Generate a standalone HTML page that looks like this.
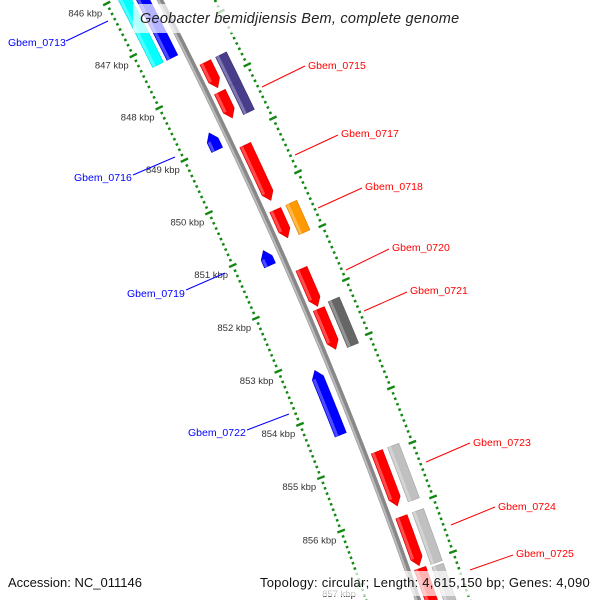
<!DOCTYPE html>
<html><head><meta charset="utf-8"><style>
html,body{margin:0;padding:0;background:#fff;overflow:hidden;width:600px;height:600px;}
svg{display:block;font-family:"Liberation Sans","DejaVu Sans",sans-serif;overflow:hidden;}
</style></head><body>
<svg id="map" width="600" height="600" viewBox="0 0 600 600">
<g id="ticks"></g>
<g id="backbone"></g>
<g id="genes"></g>
<g id="labels" font-size="10.5">
 <g fill="#0000ff" stroke="#0000ff">
  <line x1="66" y1="41" x2="108" y2="21"/>
  <text x="8" y="46" stroke="none">Gbem_0713</text>
  <line x1="133" y1="175" x2="175" y2="157"/>
  <text x="74" y="181" stroke="none">Gbem_0716</text>
  <line x1="186" y1="290" x2="225" y2="273"/>
  <text x="127" y="297" stroke="none">Gbem_0719</text>
  <line x1="247" y1="430" x2="289" y2="414"/>
  <text x="188" y="436" stroke="none">Gbem_0722</text>
 </g>
 <g fill="#ff0000" stroke="#ff0000">
  <line x1="262" y1="87" x2="305" y2="66"/>
  <text x="308" y="69" stroke="none">Gbem_0715</text>
  <line x1="295" y1="155" x2="338" y2="135"/>
  <text x="341" y="137" stroke="none">Gbem_0717</text>
  <line x1="318" y1="208" x2="362" y2="188"/>
  <text x="365" y="190" stroke="none">Gbem_0718</text>
  <line x1="346" y1="270" x2="389" y2="249"/>
  <text x="392" y="251" stroke="none">Gbem_0720</text>
  <line x1="364" y1="311" x2="407" y2="292"/>
  <text x="410" y="294" stroke="none">Gbem_0721</text>
  <line x1="426" y1="462" x2="470" y2="443"/>
  <text x="473" y="446" stroke="none">Gbem_0723</text>
  <line x1="451" y1="525" x2="495" y2="507"/>
  <text x="498" y="510" stroke="none">Gbem_0724</text>
  <line x1="470" y1="570" x2="513" y2="555"/>
  <text x="516" y="557" stroke="none">Gbem_0725</text>
 </g>
</g>
<rect x="133" y="4" width="338" height="29" fill="#fff" fill-opacity="0.7"/>
<text x="140" y="23" font-size="14.5" font-style="italic" fill="#222" letter-spacing="0.25">Geobacter bemidjiensis Bem, complete genome</text>
<text x="8" y="587" font-size="13" fill="#111">Accession: NC_011146</text>
<rect x="255" y="571" width="340" height="25" fill="#fff" fill-opacity="0.7"/>
<text x="590" y="587" font-size="13" fill="#111" text-anchor="end" letter-spacing="0.25">Topology: circular; Length: 4,615,150 bp; Genes: 4,090</text>
</svg>
<script>
// ---- data ----
const geneStarts  = [845.5, 845.5, 847.65, 848.21, 847.65, 848.19, 848.76, 849.21, 850.43, 850.43, 850.98, 851.53, 852.28, 852.23, 853.23, 854.93, 854.93, 856.13, 856.13, 857.08, 857.13];
const geneEnds    = [847.33, 847.33, 848.13, 848.7, 848.19, 848.73, 849.08, 850.25, 850.95, 850.98, 851.26, 852.23, 853.03, 853.08, 854.43, 855.93, 855.93, 857.03, 857.08, 859.0, 859.0];
const geneStrands = [-1, -1, 1, 1, 0, 0, -1, 1, 1, 0, -1, 1, 1, 0, -1, 1, 0, 1, 0, 1, 0];
const geneRings   = ["outerRev","innerRev","innerFwd","innerFwd","outerFwd","outerFwd","innerRev","innerFwd","innerFwd","outerFwd","innerRev","innerFwd","innerFwd","outerFwd","innerRev","innerFwd","outerFwd","innerFwd","outerFwd","innerFwd","outerFwd"];
const geneColors  = ["#00ffff","#0000ff","#ff0000","#ff0000","#483d8b","#483d8b","#0000ff","#ff0000","#ff0000","#ff9900","#0000ff","#ff0000","#ff0000","#666666","#0000ff","#ff0000","#c0c0c0","#ff0000","#c0c0c0","#ff0000","#c0c0c0"];
const tickMajor = [846, 847, 848, 849, 850, 851, 852, 853, 854, 855, 856, 857];
const tickLabels = ["846 kbp","847 kbp","848 kbp","849 kbp","850 kbp","851 kbp","852 kbp","853 kbp","854 kbp","855 kbp","856 kbp","857 kbp"];
const viewStart = 845.5, viewEnd = 858.2;

// ---- geometry ----
const ringDef = {innerFwd:[6.5,18.5], outerFwd:[24,36], innerRev:[-21,-9], outerRev:[-37,-25]};
function yOf(k){const t=k-846;return -19+52.5*t+0.08*t*t;}
function xOfY(y){return 160+0.5125*y-0.0001375*y*y;}
function pt(k,d){
  const y=yOf(k), x=xOfY(y), dx=0.5125-0.000275*y, n=Math.hypot(dx,1);
  return [x+d*(1/n), y+d*(-dx/n)];
}
const NS="http://www.w3.org/2000/svg";
function mk(tag,attrs,parent){const e=document.createElementNS(NS,tag);for(const a in attrs)e.setAttribute(a,attrs[a]);parent.appendChild(e);return e;}
function lighten(c,f){const v=parseInt(c.slice(1),16);let r=v>>16,g=(v>>8)&255,b=v&255;r=Math.round(r+(255-r)*f);g=Math.round(g+(255-g)*f);b=Math.round(b+(255-b)*f);return "rgb("+r+","+g+","+b+")";}
function darken(c,f){const v=parseInt(c.slice(1),16);let r=v>>16,g=(v>>8)&255,b=v&255;return "rgb("+Math.round(r*f)+","+Math.round(g*f)+","+Math.round(b*f)+")";}

// ---- backbone ----
const bb=document.getElementById('backbone');
function curvePath(d,k0,k1){let s="";for(let k=k0;k<=k1+1e-9;k+=0.05){const p=pt(k,d);s+=(s?"L":"M")+p[0].toFixed(2)+","+p[1].toFixed(2);}return s;}
let e=mk('path',{d:curvePath(0,845.3,858.2),stroke:"#888",'stroke-width':6,fill:"none"},bb);


e=mk('path',{d:curvePath(-1.5,845.3,858.2),stroke:"#bbb",'stroke-width':2,fill:"none"},bb);



// ---- ticks ----
const tg=document.getElementById('ticks');
[-49,49].forEach(function(ring){
  for(let i=Math.ceil(viewStart*10);i<=viewEnd*10;i++){
    const k=i/10, major=(i%10===0);
    const half=major?4:1.3;
    const a=pt(k,ring-half), b=pt(k,ring+half);
    const t=mk('line',{x1:a[0],y1:a[1],x2:b[0],y2:b[1],stroke:"#118811",'stroke-width':2.4},tg);
    
    
  }
});
tickMajor.forEach(function(k,i){
  const p=pt(k,-53);
  const t=mk('text',{x:p[0]-1,y:p[1]+11,'text-anchor':'end','font-size':9.5,fill:"#333"},tg);
  t.textContent=tickLabels[i];
  
  
});

// ---- genes ----
const gg=document.getElementById('genes');
geneStarts.forEach(function(s,i){
  const en=geneEnds[i], strand=geneStrands[i], r=ringDef[geneRings[i]], col=geneColors[i];
  const d1=r[0], d2=r[1], mid=(d1+d2)/2, head=0.14;
  let bodyStart=s, bodyEnd=en;
  if(strand===1) bodyEnd=Math.max(s,en-head);
  if(strand===-1) bodyStart=Math.min(en,s+head);
  const steps=Math.max(2,Math.ceil((bodyEnd-bodyStart)/0.05));
  const left=[], right=[];
  for(let j=0;j<=steps;j++){const k=bodyStart+(bodyEnd-bodyStart)*j/steps;left.push(pt(k,d1));right.push(pt(k,d2));}
  let poly=[];
  if(strand===-1) poly.push(pt(s,mid));
  poly=poly.concat(left);
  if(strand===1) poly.push(pt(en,mid));
  poly=poly.concat(right.reverse());
  const g=mk('polygon',{points:poly.map(p=>p[0].toFixed(2)+","+p[1].toFixed(2)).join(" "),fill:col,stroke:darken(col,0.85),'stroke-width':0.6},gg);
  
  
  const hl=[];const hr=[];
  for(let j=0;j<=steps;j++){const k=bodyStart+(bodyEnd-bodyStart)*j/steps;hl.push(pt(k,d1+0.5));hr.push(pt(k,d1+3.5));}
  const hp=hl.concat(hr.reverse());
  const h=mk('polygon',{points:hp.map(p=>p[0].toFixed(2)+","+p[1].toFixed(2)).join(" "),fill:lighten(col,0.3)},gg);
  
  
});
</script>
</body></html>
